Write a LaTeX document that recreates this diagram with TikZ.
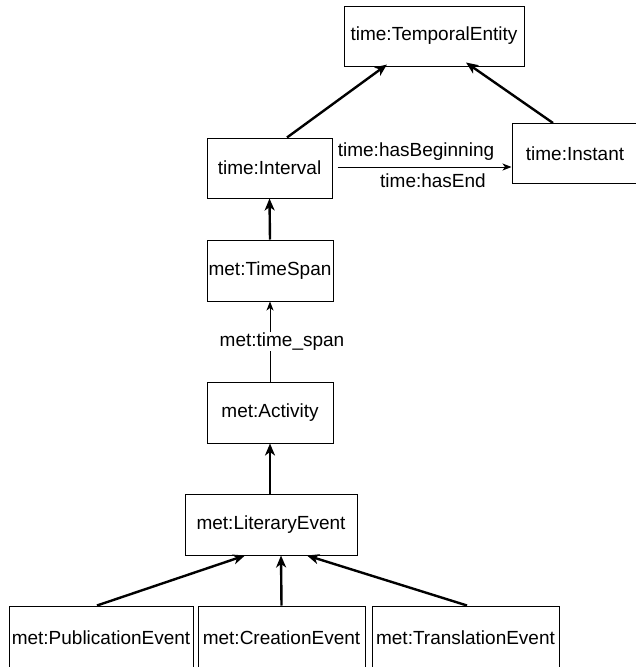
\documentclass[tikz,border=0pt]{standalone}
\usepackage{fontspec}
\setmainfont{Liberation Sans}
\usetikzlibrary{arrows.meta}
\begin{document}
\begin{tikzpicture}[x=1pt,y=-1pt,
  cls/.style={draw=black,line width=1pt,inner sep=0pt,minimum height=60pt,
    font=\fontsize{19}{22}\selectfont,text=black},
  isa/.style={line width=2.4pt,-{Stealth[length=12pt,width=10pt,inset=3.5pt]}},
  prop/.style={line width=0.9pt,-{Stealth[length=9pt,width=7pt,inset=2.5pt]}},
  lbl/.style={font=\fontsize{19}{22}\selectfont,inner sep=1pt}]
\useasboundingbox (0,0) rectangle (636,667);
\begin{scope}
\clip (0,0) rectangle (636,667);
% classes
\node[cls,minimum width=180pt] (te) at (434,36) {time:TemporalEntity};
\node[cls,minimum width=125pt] (iv) at (269.5,168) {time:Interval};
\node[cls,minimum width=126pt] (in) at (575,153.5) {time:Instant};
\node[cls,minimum width=126pt,minimum height=61pt] (ts) at (270,270.5) {met:TimeSpan};
\node[cls,minimum width=126pt,minimum height=61pt] (ac) at (270,412.5) {met:Activity};
\node[cls,minimum width=172pt,minimum height=61pt] (le) at (271,524.5) {met:LiteraryEvent};
\node[cls,minimum width=184pt,minimum height=64pt] (pe) at (101,638) {met:PublicationEvent};
\node[cls,minimum width=167pt,minimum height=64pt] (ce) at (281.5,638) {met:CreationEvent};
\node[cls,minimum width=187pt,minimum height=64pt] (tr) at (465.5,638) {met:TranslationEvent};
% subclass links
\draw[isa] ([xshift=17.5pt]iv.north) -- ([xshift=-47pt,yshift=2pt]te.south);
\draw[isa] ([xshift=-22pt]in.north) -- ([xshift=32pt,yshift=4pt]te.south);
\draw[isa] (ts.north) -- (iv.south);
\draw[isa] ([xshift=-1pt]le.north) -- (ac.south);
\draw[isa] ([xshift=-4pt]pe.north) -- ([xshift=-26pt]le.south);
\draw[isa] (ce.north) -- ([xshift=10pt]le.south);
\draw[isa] ([xshift=1.5pt]tr.north) -- ([xshift=36pt]le.south);
% properties
\draw[prop] ([xshift=5pt,yshift=1pt]iv.east) -- ([yshift=1pt]iv.east -| in.west)
  node[lbl,midway,above=5pt,xshift=-8.5pt] {time:hasBeginning}
  node[lbl,midway,below=5pt,xshift=8.5pt] {time:hasEnd};
\draw[prop] (ac.north) -- (ts.south)
  node[lbl,midway,fill=white,xshift=12pt] {met:time\_span};
\end{scope}
\end{tikzpicture}
\end{document}
